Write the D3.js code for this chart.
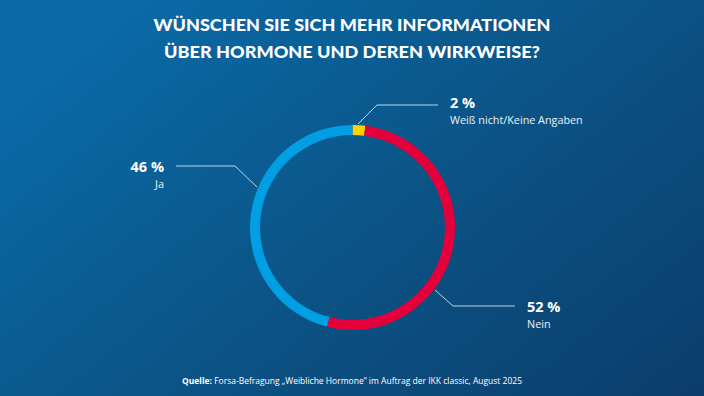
<!DOCTYPE html>
<html><head><meta charset="utf-8">
<script src="https://cdn.jsdelivr.net/npm/d3@7"></script>
<style>html,body{margin:0;padding:0;background:#0b5283;}svg{display:block;}</style>
</head><body>
<svg id="chart" width="704" height="396"></svg>
<script>
const categories = ["Weiß nicht/Keine Angaben", "Nein", "Ja"];
const values = [2, 52, 46];
const valueLabels = ["2 %", "52 %", "46 %"];
const colors = ["#ffd200", "#e3003b", "#009ee3"];
const titleLines = ["WÜNSCHEN SIE SICH MEHR INFORMATIONEN", "ÜBER HORMONE UND DEREN WIRKWEISE?"];

const svg = d3.select("#chart");
const W = 704, H = 396;
const defs = svg.append("defs");
const g1 = defs.append("linearGradient").attr("id","bg").attr("x1","0").attr("y1","0.3").attr("x2","1").attr("y2","1");
g1.append("stop").attr("offset","0").attr("stop-color","#0a69a6");
g1.append("stop").attr("offset","0.5").attr("stop-color","#0b5385");
g1.append("stop").attr("offset","1").attr("stop-color","#0b3d6b");
svg.append("rect").attr("width",W).attr("height",H).attr("fill","url(#bg)");

// Title
const tl = svg.append("g").attr("fill","#fff").attr("font-family","Lato, sans-serif").attr("font-weight","900").attr("font-size","16.5px").attr("text-anchor","middle");
const titleW = [397, 376];
titleLines.forEach((t,i)=>{
  tl.append("text").attr("x",352).attr("y",31 + i*26.5).attr("textLength",titleW[i]).attr("lengthAdjust","spacingAndGlyphs").text(t);
});

// Donut
const cx = 352.5, cy = 227.5, rOut = 102.5, rIn = 92.5;
const pie = d3.pie().sort(null).value(d=>d)(values);
const arc = d3.arc().innerRadius(rIn).outerRadius(rOut);
const ring = svg.append("g").attr("transform",`translate(${cx},${cy})`);
ring.selectAll("path").data(pie).join("path").attr("d",arc).attr("fill",(d,i)=>colors[i]);

// Leader lines and labels
const lineColor = "rgba(255,255,255,0.75)";
const leaders = [
  {pts:[[358,124],[377,105],[438,105]], x:450, y:108, anchor:"start"},
  {pts:[[435,290],[453,306],[515,306]], x:527, y:312, anchor:"start"},
  {pts:[[257,187],[235,166],[176,166]], x:164, y:172, anchor:"end"}
];
const lab = svg.append("g").attr("font-family","'Open Sans', sans-serif").attr("fill","#fff");
leaders.forEach((L,i)=>{
  svg.append("path").attr("d",d3.line()(L.pts)).attr("fill","none").attr("stroke",lineColor).attr("stroke-width",1);
  lab.append("text").attr("x",L.x).attr("y",L.y).attr("text-anchor",L.anchor).attr("font-weight","700").attr("font-size","14.5px").text(valueLabels[i]);
  lab.append("text").attr("x",L.x).attr("y",L.y+16).attr("text-anchor",L.anchor).attr("font-size","10.8px").attr("fill","#eef3f8").text(categories[i]);
});

// Source
const src = svg.append("text").attr("x",352).attr("y",384).attr("text-anchor","middle").attr("font-family","'Open Sans', sans-serif").attr("font-size","8.5px").attr("fill","#fff");
src.append("tspan").attr("font-weight","700").text("Quelle: ");
src.append("tspan").text("Forsa-Befragung „Weibliche Hormone“ im Auftrag der IKK classic, August 2025");
</script>
</body></html>
